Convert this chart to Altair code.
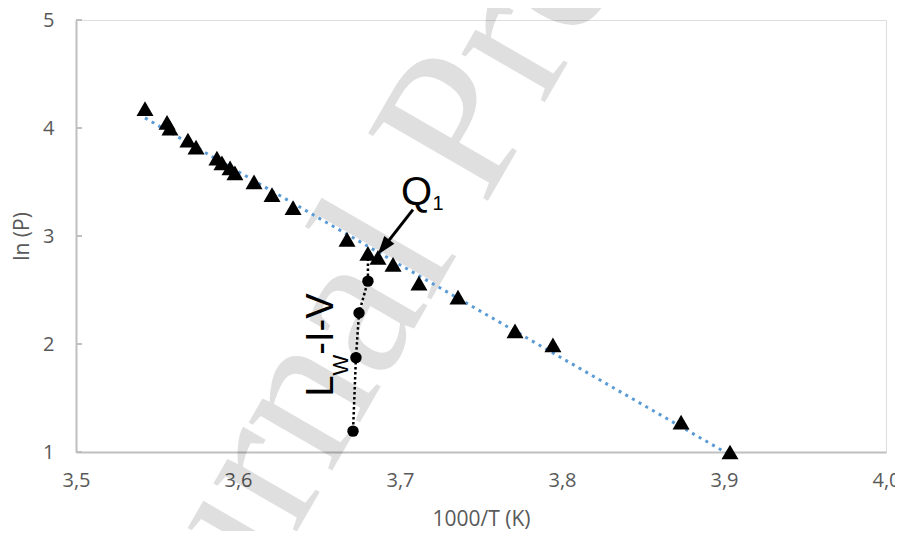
import altair as alt
import pandas as pd

# ---- data ----
inv_T = [3.5426, 3.5562, 3.5580, 3.5691, 3.5741, 3.5870, 3.5901, 3.5951, 3.5981,
         3.6099, 3.6210, 3.6340, 3.6673, 3.6802, 3.6864, 3.6957, 3.7117, 3.7358,
         3.7710, 3.7944, 3.8735, 3.9037]
ln_P = [4.18, 4.053, 3.998, 3.887, 3.823, 3.722, 3.676, 3.630, 3.584,
        3.501, 3.382, 3.262, 2.968, 2.839, 2.802, 2.738, 2.563, 2.434,
        2.122, 1.993, 1.276, 1.000]

lwiv_T = [3.6802, 3.6747, 3.6728, 3.6710]
lwiv_P = [2.582, 2.287, 1.874, 1.193]
# line of the L_W-I-V branch ends on the Q1 point
q1_T = 3.6802
q1_P = 2.839

x_ticks = [3.5, 3.6, 3.7, 3.8, 3.9, 4.0]
y_ticks = [1, 2, 3, 4, 5]

# annotation anchors (data units)
arrow_tail = (3.7080, 3.244)
arrow_head = (3.6898, 2.895)
q_label = (3.7006, 3.290)
q_sub = (3.7200, 3.240)
l_label = (3.6586, 1.515)
w_sub = (3.6679, 1.708)
rest_label = (3.6586, 1.901)

pts = pd.DataFrame({"x": inv_T, "y": ln_P})
circ = pd.DataFrame({"x": lwiv_T, "y": lwiv_P})
line_df = pd.DataFrame({"x": [q1_T] + lwiv_T, "y": [q1_P] + lwiv_P,
                        "o": list(range(len(lwiv_T) + 1))})

xs = alt.Scale(domain=[3.5, 4.0], nice=False, zero=False)
ys = alt.Scale(domain=[1, 5], nice=False, zero=False)

FONT = "Open Sans"
GREY = "#595959"

xaxis = alt.Axis(values=x_ticks, labelExpr="replace(format(datum.value, '.1f'), '.', ',')",
                 grid=False, ticks=False, domainColor="#BFBFBF", domainWidth=2,
                 labelFont=FONT, labelFontSize=20, labelColor=GREY, labelPadding=18,
                 labelFlush=False, labelOverlap=False,
                 title="1000/T (K)", titleFont=FONT, titleFontSize=21, titleColor=GREY,
                 titleFontWeight="normal", titlePadding=18)
yaxis = alt.Axis(values=y_ticks, format="d", grid=False, ticks=False,
                 domainColor="#BFBFBF", domainWidth=2,
                 labelFont=FONT, labelFontSize=20, labelColor=GREY, labelPadding=22,
                 labelFlush=False, labelOverlap=False,
                 title="ln (P)", titleFont=FONT, titleFontSize=21, titleColor=GREY,
                 titleFontWeight="normal", titlePadding=10)

# watermark
wm = alt.Chart(pd.DataFrame({"t": ["Journal Pre-proof"]})).mark_text(
    font="Liberation Serif", fontSize=210, angle=300, align="left",
    baseline="alphabetic", color="#000000", opacity=0.12
).encode(text="t:N", x=alt.value(73), y=alt.value(768))

base_pts = alt.Chart(pts)

trend = base_pts.transform_regression("x", "y", method="linear").mark_line(
    color="#5B9BD5", strokeWidth=3, strokeDash=[3, 4.7]
).encode(x=alt.X("x:Q", scale=xs, axis=xaxis), y=alt.Y("y:Q", scale=ys, axis=yaxis))

ytick_rules = alt.Chart(pd.DataFrame({"v": y_ticks})).mark_rule(
    color="#BFBFBF", strokeWidth=2
).encode(y=alt.Y("v:Q", scale=ys), x=alt.value(0), x2=alt.value(6))

dotted = alt.Chart(line_df).mark_line(color="black", strokeWidth=2.5, strokeDash=[2.5, 2.5]).encode(
    x=alt.X("x:Q", scale=xs), y=alt.Y("y:Q", scale=ys), order="o:Q")

circles = alt.Chart(circ).mark_point(shape="circle", filled=True, color="black", size=130, opacity=1).encode(
    x=alt.X("x:Q", scale=xs), y=alt.Y("y:Q", scale=ys))

tri = base_pts.mark_point(shape="triangle-up", filled=True, color="black", size=290, opacity=1).encode(
    x=alt.X("x:Q", scale=xs), y=alt.Y("y:Q", scale=ys))

arrow_df = pd.DataFrame({"x": [arrow_tail[0]], "y": [arrow_tail[1]],
                         "x2": [arrow_head[0]], "y2": [arrow_head[1]]})
shaft = alt.Chart(arrow_df).mark_rule(color="black", strokeWidth=3).encode(
    x=alt.X("x:Q", scale=xs), y=alt.Y("y:Q", scale=ys), x2="x2:Q", y2="y2:Q")
head = alt.Chart(arrow_df).mark_point(
    shape="M0,-1L0.67,1L-0.67,1Z", filled=True, color="black", size=360, angle=218, opacity=1
).encode(x=alt.X("x2:Q", scale=xs), y=alt.Y("y2:Q", scale=ys))


def label(pos, txt, size, angle=0):
    return alt.Chart(pd.DataFrame({"x": [pos[0]], "y": [pos[1]], "t": [txt]})).mark_text(
        font="Liberation Sans", fontSize=size, align="left", baseline="alphabetic",
        color="black", angle=angle
    ).encode(x=alt.X("x:Q", scale=xs), y=alt.Y("y:Q", scale=ys), text="t:N")


texts = (label(q_label, "Q", 40) + label(q_sub, "1", 20)
         + label(l_label, "L", 38, 270) + label(w_sub, "W", 22, 270)
         + label(rest_label, "-I-V", 38, 270))

chart = alt.layer(wm, trend, ytick_rules, dotted, circles, tri, shaft, head, texts).properties(
    width=810, height=432,
    autosize=alt.AutoSizeParams(type="none"),
    padding={"left": 68, "top": 12, "right": 9, "bottom": 79},
).configure_view(stroke=None).configure(background="white")

chart.save("out.html", embed_options={"renderer": "svg", "actions": False})
